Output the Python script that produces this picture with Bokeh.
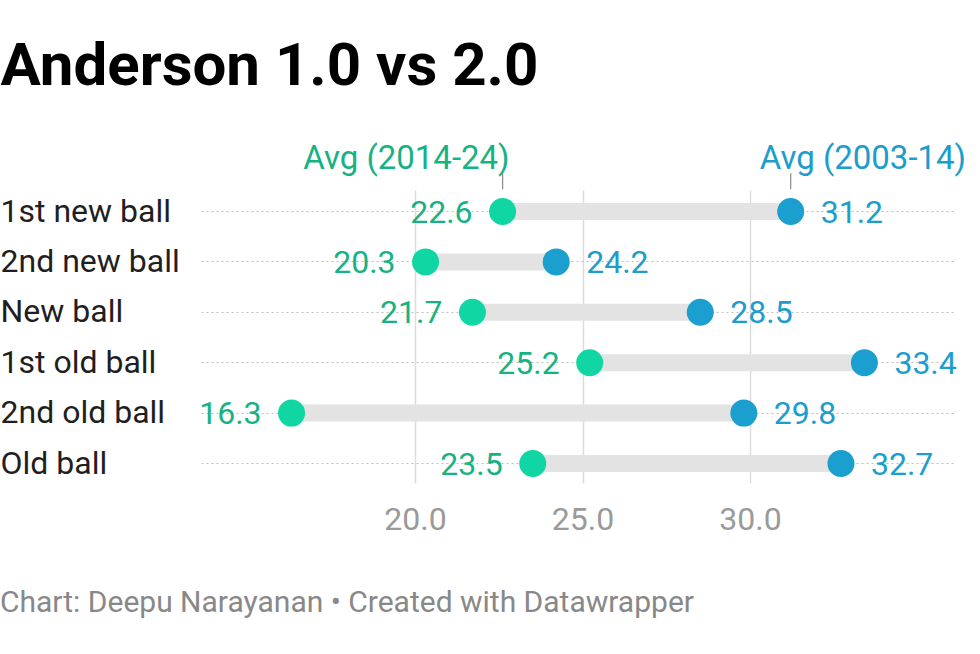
from bokeh.plotting import figure
from bokeh.models import Range1d, FixedTicker, Label, Div
from bokeh.layouts import column
from bokeh.core.properties import value
from bokeh.embed import file_html
from bokeh.resources import INLINE

# ---- data ----
categories = ["1st new ball", "2nd new ball", "New ball", "1st old ball", "2nd old ball", "Old ball"]
avg_2014_24 = [22.6, 20.3, 21.7, 25.2, 16.3, 23.5]
avg_2003_14 = [31.2, 24.2, 28.5, 33.4, 29.8, 32.7]
series_names = ["Avg (2014-24)", "Avg (2003-14)"]
tick_values = [20, 25, 30]
tick_labels = ["20.0", "25.0", "30.0"]
title_text = "Anderson 1.0 vs 2.0"
footer_text = "Chart: Deepu Narayanan \u2022 Created with Datawrapper"

# ---- style ----
GREEN_DOT = "#0fd6a2"
GREEN_TXT = "#17b283"
BLUE_DOT = "#1a9fcf"
BLUE_TXT = "#1c9dcc"
FONT = "Roboto"
BODY = "32px"

W = 980
PLOT_H = 584
FOOT_H = 654 - PLOT_H
FRAME_H = 483
PX_PER_UNIT = 33.5
X20_PX = 415
ROW_PX = 50.4
ROW0_PX = 211

row_idx = list(range(len(categories)))
x_start = 20 - X20_PX / PX_PER_UNIT
x_end = x_start + W / PX_PER_UNIT
y_top = row_idx[0] - ROW0_PX / ROW_PX
y_bottom = y_top + FRAME_H / ROW_PX

p = figure(width=W, height=PLOT_H, output_backend="svg", toolbar_location=None,
           x_range=Range1d(x_start, x_end), y_range=Range1d(y_bottom, y_top),
           y_axis_location=None,
           min_border_left=0, min_border_right=0, min_border_top=0,
           min_border_bottom=PLOT_H - FRAME_H)
p.outline_line_color = None
p.background_fill_color = "white"

# x axis
p.xaxis.ticker = FixedTicker(ticks=tick_values)
p.xaxis.major_label_overrides = {t: l for t, l in zip(tick_values, tick_labels)}
p.xaxis.axis_line_color = None
p.xaxis.major_tick_line_color = None
p.xaxis.minor_tick_line_color = None
p.xaxis.major_label_standoff = 18
p.xaxis.major_label_text_font = FONT
p.xaxis.major_label_text_font_size = BODY
p.xaxis.major_label_text_color = "#9a9a9a"

# grids
p.xgrid.ticker = FixedTicker(ticks=tick_values)
p.xgrid.grid_line_color = "#dcdcdc"
p.xgrid.grid_line_width = 1.5
p.xgrid.cross_bounds = (row_idx[0] - 0.42, y_bottom)
p.ygrid.ticker = FixedTicker(ticks=row_idx)
p.ygrid.grid_line_color = "#bdbdbd"
p.ygrid.grid_line_dash = "2 3"
p.ygrid.grid_line_width = 1.2
p.ygrid.cross_bounds = (13.6, 36.1)

# bars
p.segment(x0=avg_2014_24, y0=row_idx, x1=avg_2003_14, y1=row_idx,
          line_width=17, line_color="#e3e3e3")
# dots
p.scatter(avg_2014_24, row_idx, size=27, fill_color=GREEN_DOT, line_color=None)
p.scatter(avg_2003_14, row_idx, size=27, fill_color=BLUE_DOT, line_color=None)

# value labels
p.text(x=avg_2014_24, y=row_idx, text=[f"{v:.1f}" for v in avg_2014_24],
       x_offset=-30, text_align="right", text_baseline="middle",
       text_font=value(FONT), text_font_size=BODY, text_color=GREEN_TXT)
p.text(x=avg_2003_14, y=row_idx, text=[f"{v:.1f}" for v in avg_2003_14],
       x_offset=30, text_align="left", text_baseline="middle",
       text_font=value(FONT), text_font_size=BODY, text_color=BLUE_TXT)

# category labels
p.text(x=[x_start] * len(categories), y=row_idx, text=categories,
       text_align="left", text_baseline="middle", y_offset=-1,
       text_font=value(FONT), text_font_size=BODY, text_color="#1f1f1f")

# series annotations on first row
p.segment(x0=[avg_2014_24[0], avg_2003_14[0]], y0=[row_idx[0] - 0.76] * 2,
          x1=[avg_2014_24[0], avg_2003_14[0]], y1=[row_idx[0] - 0.44] * 2,
          line_color="#8a8a8a", line_width=1.2)
p.text(x=[avg_2014_24[0]], y=[row_idx[0]], text=[series_names[0]],
       x_offset=7, y_offset=-54, text_align="right", text_baseline="alphabetic",
       text_font=value(FONT), text_font_size="33px", text_color=GREEN_TXT)
p.text(x=[avg_2003_14[0]], y=[row_idx[0]], text=[series_names[1]],
       x_offset=-31, y_offset=-54, text_align="left", text_baseline="alphabetic",
       text_font=value(FONT), text_font_size="33px", text_color=BLUE_TXT)

# title
p.add_layout(Label(x=0, y=FRAME_H - 64, x_units="screen", y_units="screen",
                   text=title_text, text_font=FONT, text_font_size="60px",
                   text_font_style="bold", text_color="#000000",
                   text_baseline="alphabetic"))

# footer
footer = Div(text=footer_text, width=W, height=FOOT_H, margin=0,
             styles={"font-family": "Roboto", "font-size": "30px",
                     "color": "#888888", "line-height": "36px",
                     "white-space": "nowrap", "padding": "0"})

layout = column(p, footer, spacing=0)
open("out.html", "w").write(file_html(layout, INLINE))
